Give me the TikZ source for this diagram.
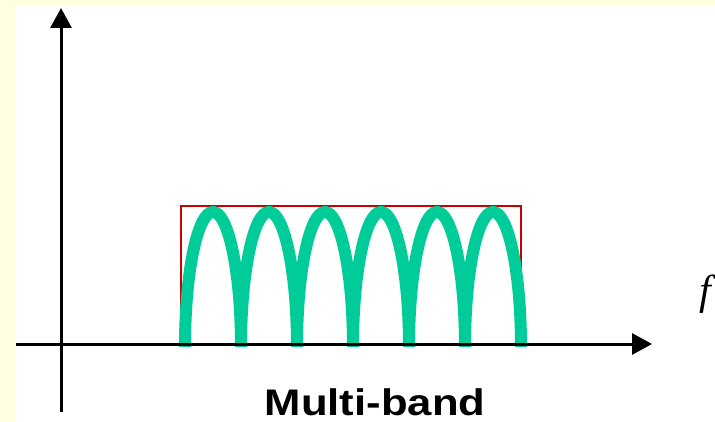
\documentclass[tikz,border=0pt]{standalone}
\usepackage{fontspec}
\setmainfont{Liberation Serif}
\setsansfont{Liberation Sans}
\usetikzlibrary{arrows.meta,positioning}
\definecolor{bandgreen}{RGB}{0,204,153}
\definecolor{maskred}{RGB}{204,0,0}
\definecolor{slidebg}{RGB}{255,255,224}

\begin{document}
\begin{tikzpicture}[x=1pt,y=-1pt,axis/.style={line width=3pt,-{Triangle[length=20pt,width=21pt]}},mask/.style={draw=maskred,line width=1.6pt},lobe/.style={draw=bandgreen,line width=12pt},lbl/.style={inner sep=0pt,anchor=base}]
\useasboundingbox (0,0) rectangle (715,422);
\fill[slidebg] (0,0) rectangle (715,422);
\fill[white] (15,5) rectangle (715,422);
\coordinate (o) at (61,344);
\coordinate (ybot) at (61,412);
\coordinate (ytop) at (61,8);
\coordinate (xleft) at (16,344);
\coordinate (xright) at (652,344);
\draw[mask] (181,344) |- (521,206) -- (521,344);
\foreach \i in {0,...,5}{\draw[lobe] (185+56*\i,347) arc (180:360:28 and 135);}
\draw[axis] (ybot)--(ytop);
\draw[axis] (xleft)--(xright);
\node[lbl,font=\fontsize{42}{42}\selectfont\itshape] (f) at (705,304) {f};
\node[lbl,font=\fontsize{37}{37}\selectfont\sffamily\bfseries\addfontfeature{FakeStretch=1.18}] (title) at (375,415) {Multi-band};
\end{tikzpicture}
\end{document}
